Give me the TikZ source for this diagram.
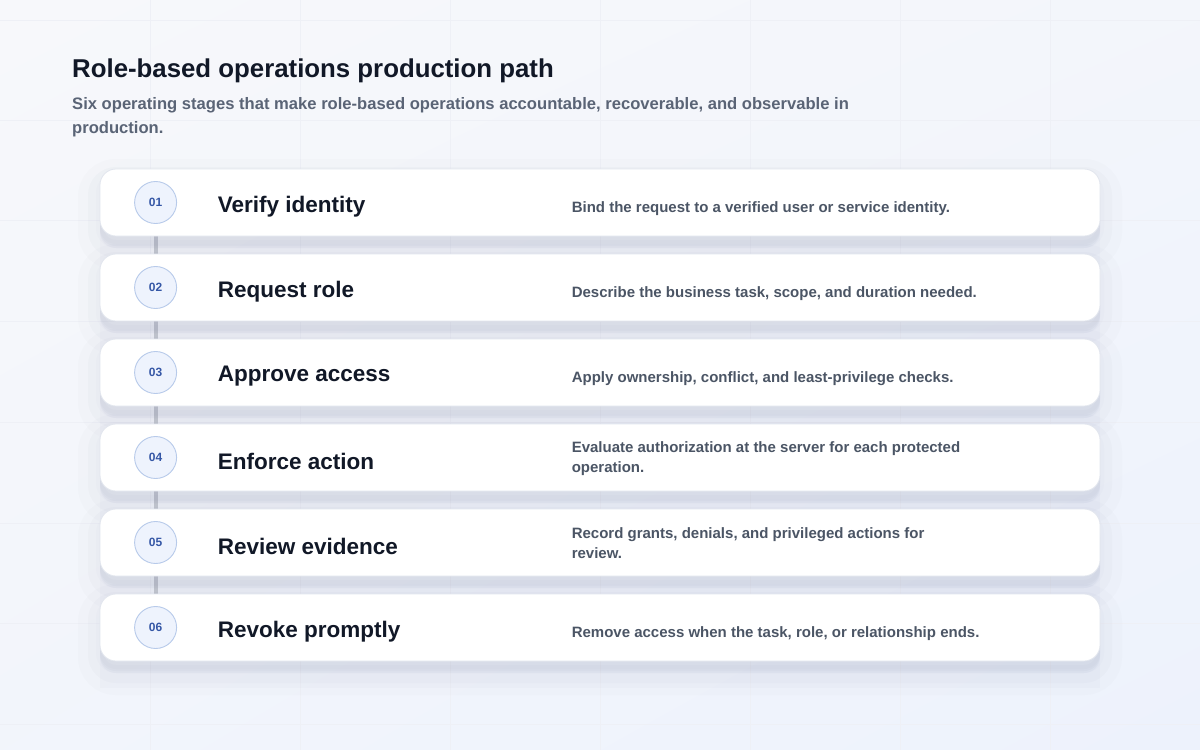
\documentclass[tikz,border=0pt]{standalone}
\usepackage{fontspec}
\setmainfont{Liberation Sans}
\usetikzlibrary{shadows,shadings,backgrounds}
\definecolor{bgtop}{RGB}{247,248,251}
\definecolor{bgbottom}{RGB}{237,242,252}
\definecolor{gridcolor}{RGB}{238,240,246}
\definecolor{inkcolor}{RGB}{17,24,39}
\definecolor{subcolor}{RGB}{90,100,118}
\definecolor{desccolor}{RGB}{75,85,101}
\definecolor{shadowcolor}{RGB}{70,82,120}
\definecolor{cardborder}{RGB}{226,230,238}
\definecolor{stepfill}{RGB}{238,243,253}
\definecolor{stepborder}{RGB}{183,202,234}
\definecolor{stepink}{RGB}{53,87,166}
\definecolor{spinecolor}{RGB}{196,200,210}

\begin{document}
\begin{tikzpicture}[x=1pt,y=-1pt]
    \tikzstyle{every node}=[inner sep=0pt, font=\bfseries]
    \tikzstyle{card}=[draw=cardborder, fill=white, line width=0.8pt, rounded corners=16pt,
        minimum width=1000pt, minimum height=67pt,
        general shadow={shadow yshift=-12pt, draw=shadowcolor, line width=44pt, draw opacity=0.015, fill=shadowcolor, fill opacity=0.03},
        general shadow={shadow yshift=-10pt, draw=shadowcolor, line width=24pt, draw opacity=0.025, fill=shadowcolor, fill opacity=0.03},
        general shadow={shadow yshift=-8pt, draw=shadowcolor, line width=8pt, draw opacity=0.015, fill=shadowcolor, fill opacity=0.02}]
    \tikzstyle{stepnum}=[circle, draw=stepborder, fill=stepfill, line width=0.9pt, minimum size=42pt,
        text=stepink, font=\bfseries\fontsize{12}{14}\selectfont]
    \tikzstyle{stagename}=[anchor=west, text=inkcolor, font=\bfseries\fontsize{22.5}{26}\selectfont]
    \tikzstyle{stagedesc}=[anchor=west, align=left, text=desccolor, font=\bfseries\fontsize{15}{20}\selectfont]
    \tikzstyle{spine}=[draw=spinecolor, line width=4pt]

    \useasboundingbox (0,0) rectangle (1200,750);

    % Heading
    \node[anchor=base west, text=inkcolor, font=\bfseries\fontsize{25.8}{30}\selectfont] at (72,77) (title) {Role-based operations production path};
    \node[anchor=base west, align=left, text=subcolor, font=\bfseries\fontsize{16.6}{24}\selectfont] at (72,133) (subtitle)
        {Six operating stages that make role-based operations accountable, recoverable, and observable in\\production.};

    % Cards
    \node[card] at (600,202.5) (c1) {};
    \node[card] at (600,287.5) (c2) {};
    \node[card] at (600,372.5) (c3) {};
    \node[card] at (600,457.5) (c4) {};
    \node[card] at (600,542.5) (c5) {};
    \node[card] at (600,627.5) (c6) {};

    % Step numbers
    \node[stepnum] at ([xshift=56pt]c1.west) (n1) {01};
    \node[stepnum] at ([xshift=56pt]c2.west) (n2) {02};
    \node[stepnum] at ([xshift=56pt]c3.west) (n3) {03};
    \node[stepnum] at ([xshift=56pt]c4.west) (n4) {04};
    \node[stepnum] at ([xshift=56pt]c5.west) (n5) {05};
    \node[stepnum] at ([xshift=56pt]c6.west) (n6) {06};

    % Stage names
    \node[stagename] at ([xshift=118pt,yshift=-4pt]c1.west) (s1) {Verify identity};
    \node[stagename] at ([xshift=118pt,yshift=-4pt]c2.west) (s2) {Request role};
    \node[stagename] at ([xshift=118pt,yshift=-4pt]c3.west) (s3) {Approve access};
    \node[stagename] at ([xshift=118pt,yshift=-4pt]c4.west) (s4) {Enforce action};
    \node[stagename] at ([xshift=118pt,yshift=-4pt]c5.west) (s5) {Review evidence};
    \node[stagename] at ([xshift=118pt,yshift=-4pt]c6.west) (s6) {Revoke promptly};

    % Descriptions
    \node[stagedesc] at ([xshift=472pt,yshift=-6pt]c1.west) (d1) {Bind the request to a verified user or service identity.};
    \node[stagedesc] at ([xshift=472pt,yshift=-6pt]c2.west) (d2) {Describe the business task, scope, and duration needed.};
    \node[stagedesc] at ([xshift=472pt,yshift=-6pt]c3.west) (d3) {Apply ownership, conflict, and least-privilege checks.};
    \node[stagedesc] at ([xshift=472pt,yshift=-1pt]c4.west) (d4) {Evaluate authorization at the server for each protected\\operation.};
    \node[stagedesc] at ([xshift=472pt,yshift=-1pt]c5.west) (d5) {Record grants, denials, and privileged actions for\\review.};
    \node[stagedesc] at ([xshift=472pt,yshift=-6pt]c6.west) (d6) {Remove access when the task, role, or relationship ends.};

    \begin{scope}[on background layer]
        % Page
        \shade[upper left=bgtop, upper right=bgtop!60!bgbottom, lower left=bgtop!50!bgbottom, lower right=bgbottom] (0,0) rectangle (1200,750);
        \draw[gridcolor, line width=0.6pt] (150,0) -- (150,750) (300,0) -- (300,750) (450,0) -- (450,750) (600,0) -- (600,750)
            (750,0) -- (750,750) (900,0) -- (900,750) (1050,0) -- (1050,750);
        \draw[gridcolor, line width=0.6pt] (0,20) -- (1200,20) (0,120) -- (1200,120) (0,220) -- (1200,220) (0,321) -- (1200,321)
            (0,422) -- (1200,422) (0,523) -- (1200,523) (0,623) -- (1200,623) (0,724) -- (1200,724);
        % Panel
        \fill[shadowcolor, opacity=0.02] (100,180) rectangle (1100,688);

        % Spine
        \draw[spine] (n1) -- (n2);
        \draw[spine] (n2) -- (n3);
        \draw[spine] (n3) -- (n4);
        \draw[spine] (n4) -- (n5);
        \draw[spine] (n5) -- (n6);
    \end{scope}

\end{tikzpicture}
\end{document}
